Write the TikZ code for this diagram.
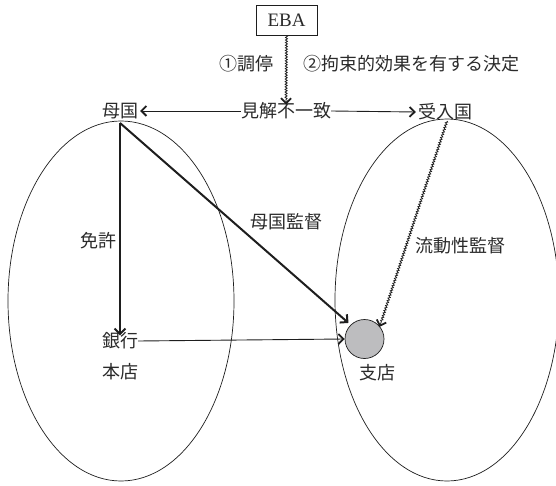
\documentclass[tikz,border=0pt]{standalone}
\usepackage{fontspec}
\setmainfont{Liberation Serif}
\newfontfamily\cjk{Noto Sans CJK JP}
\usetikzlibrary{arrows.meta,decorations.pathmorphing}
\definecolor{ink}{HTML}{2A2A2A}
\definecolor{lineink}{HTML}{1E1E1E}
\definecolor{circfill}{HTML}{BDBDBF}
\begin{document}
\begin{tikzpicture}[x=1pt,y=-1pt,
  lbl/.style={inner sep=0pt,text=ink,font=\cjk\fontsize{18}{20}\selectfont},
  wavy/.style={decorate,decoration={snake,amplitude=1pt,segment length=2.6pt,post length=5pt}},
  thinarrow/.style={draw=lineink,line width=0.9pt,-{Straight Barb[length=5pt,width=10pt,line width=1.8pt]}},
  boldarrow/.style={draw=lineink,line width=2pt,-{Straight Barb[length=5.5pt,width=11pt,line width=2pt]}},
  oval/.style={draw=lineink,line width=0.7pt}]
\useasboundingbox (0,0) rectangle (556,486);
% ellipses
\draw[oval] (121,301) ellipse [x radius=113, y radius=180];
\draw[oval] (447,300) ellipse [x radius=112, y radius=181];
% nodes
\node[draw=lineink,line width=0.7pt,minimum width=61pt,minimum height=30pt,inner sep=0pt,text=ink,font=\fontsize{19}{20}\selectfont] (eba) at (286.5,20) {EBA};
\node[lbl] (mokoku) at (120,111) {母国};
\node[lbl] (kenkai) at (286,111) {見解不一致};
\node[lbl] (ukeire) at (445,112) {受入国};
\node[lbl] (ginko) at (120,341) {銀行};
\node[lbl] (honten) at (120,372) {本店};
\node[lbl] (shiten) at (377,373) {支店};
\node[lbl] (med) at (246,64) {①調停};
\node[lbl] (bind) at (411,64) {②拘束的効果を有する決定};
\node[lbl] (menkyo) at (98,241) {免許};
\node[lbl] (boksup) at (286,222) {母国監督};
\node[lbl] (liqsup) at (460,246) {流動性監督};
\node[circle,draw=lineink,line width=0.7pt,fill=circfill,minimum size=39pt,inner sep=0pt] (c) at (364.5,339) {};
\coordinate (mb) at (120,123);
\coordinate (ub) at (447,121);
% connectors
\draw[thinarrow,wavy,line width=0.8pt] (eba.south) -- ([yshift=-2pt]kenkai.north);
\draw[thinarrow] (kenkai.west) -- ([xshift=2pt]mokoku.east);
\draw[thinarrow] (kenkai.east) -- ([xshift=-2pt]ukeire.west);
\draw[boldarrow] (mb) -- ([yshift=-3pt]ginko.north);
\draw[boldarrow] (mb) -- ([shift={(-2pt,2pt)}]c.north west);
\draw[thinarrow] (ginko.east) -- (c.west);
\draw[thinarrow,wavy,line width=0.8pt] (ub) -- ([shift={(1pt,-2pt)}]c.north east);
\end{tikzpicture}
\end{document}
